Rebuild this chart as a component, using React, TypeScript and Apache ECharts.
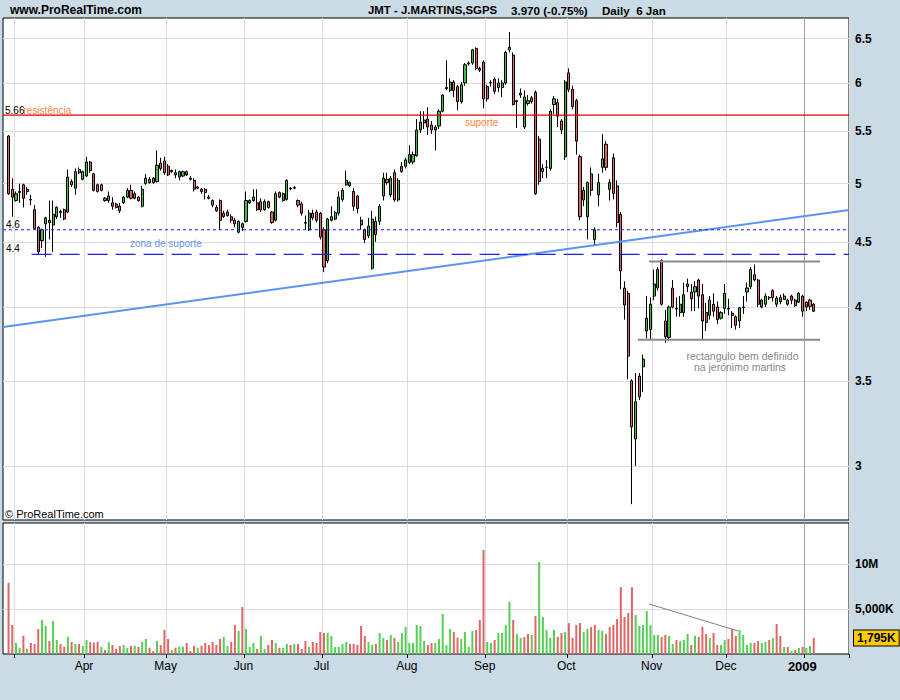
import React, { useEffect, useRef } from 'react';
import * as echarts from 'echarts';

const FONT = '"Liberation Sans", Arial, Helvetica, sans-serif';
const BG = '#cbdbe5';
const GRID_COLOR = '#dcdcdc';
const CANDLE_UP = '#3fbe3f';
const CANDLE_DOWN = '#e06464';
const VOL_UP = '#55d055';
const VOL_DOWN = '#e06666';

// ---- calendar (Euronext Lisbon trading days) ----
const START_DATE = '2008-02-27';
const HOLIDAYS = ['2008-03-21', '2008-03-24', '2008-05-01', '2008-12-25', '2008-12-26', '2009-01-01'];
const CATEGORY_COUNT = 228;
const FIRST_BAR = 1; // category index of 28 Feb 2008
const MONTH_NAMES = ['Jan', 'Feb', 'Mar', 'Apr', 'May', 'Jun', 'Jul', 'Aug', 'Sep', 'Oct', 'Nov', 'Dec'];

// ---- prices (28 Feb 2008 .. 6 Jan 2009) ----
const openP = [
  5.45, 4.95, 4.85, 4.92, 4.99, 4.93, 4.86, 4.77, 4.62, 4.51,
  4.65, 4.68, 4.64, 4.71, 4.745, 4.77, 4.75, 5.02, 4.96, 5.13,
  5.04, 5.07, 5.20, 5.09, 4.99, 4.99, 4.87, 4.85, 4.83, 4.82,
  4.80, 4.83, 4.88, 4.94, 4.91, 4.88, 4.80, 5.00, 5.01, 5.05,
  5.02, 5.19, 5.21, 5.16, 5.12, 5.10, 5.06, 5.07, 5.11, 5.05,
  5.03, 4.97, 4.95, 4.95, 4.87, 4.85, 4.79, 4.85, 4.74, 4.75,
  4.71, 4.68, 4.58, 4.62, 4.67, 4.83, 4.85, 4.83, 4.84, 4.77,
  4.84, 4.75, 4.68, 4.92, 4.85, 4.86, 4.96, 4.96, 4.85, 4.82,
  4.66, 4.60, 4.74, 4.75, 4.74, 4.60, 4.35, 4.68, 4.69, 4.74,
  4.86, 4.99, 4.98, 4.93, 4.89, 4.68, 4.60, 4.55, 4.29, 4.67,
  4.67, 4.89, 5.04, 4.90, 5.10, 4.855, 5.16, 5.16, 5.195, 5.20,
  5.26, 5.51, 5.58, 5.62, 5.56, 5.54, 5.55, 5.70, 5.94, 5.92,
  6.01, 5.96, 5.80, 6.00, 6.21, 6.22, 6.385, 6.16, 6.23, 5.96,
  6.00, 6.04, 5.95, 5.95, 6.00, 6.37, 6.31, 5.81, 5.89, 5.54,
  5.78, 5.80, 5.90, 5.42, 5.11, 5.15, 5.14, 5.77, 5.79, 5.60,
  5.25, 6.11, 5.93, 5.81, 5.25, 4.94, 4.71, 5.09, 4.52, 4.90,
  5.15, 5.37, 4.95, 5.24, 4.98, 4.73, 4.14, 4.10, 3.50, 3.15,
  3.53, 3.59, 3.83, 3.84, 4.08, 4.14, 4.35, 3.90, 3.785, 4.14,
  3.99, 3.96, 3.96, 4.17, 4.11, 4.11, 4.20, 4.09, 3.96, 3.94,
  4.02, 4.00, 3.92, 3.99, 3.99, 3.955, 3.93, 3.90, 3.995, 4.11,
  4.15, 4.24, 4.20, 4.00, 4.02, 4.07, 4.12, 4.02, 4.07, 4.055,
  4.02, 4.08, 4.05, 4.035, 4.08, 4.035, 4.05, 4.02,
];
const closeP = [
  4.91, 4.88, 4.91, 4.93, 4.87, 4.95, 4.855, 4.61, 4.42, 4.60,
  4.70, 4.66, 4.73, 4.79, 4.755, 4.69, 5.06, 4.99, 5.11, 5.10,
  5.11, 5.20, 5.12, 4.94, 4.93, 4.94, 4.85, 4.89, 4.80, 4.79,
  4.76, 4.88, 4.94, 4.87, 4.87, 4.85, 4.95, 5.05, 5.04, 5.01,
  5.17, 5.14, 5.10, 5.08, 5.11, 5.08, 5.11, 5.11, 5.08, 5.04,
  4.95, 4.96, 4.93, 4.92, 4.88, 4.81, 4.76, 4.68, 4.71, 4.72,
  4.68, 4.65, 4.67, 4.65, 4.85, 4.85, 4.88, 4.77, 4.77, 4.84,
  4.79, 4.66, 4.91, 4.88, 4.91, 5.03, 4.955, 4.965, 4.81, 4.74,
  4.655, 4.74, 4.70, 4.68, 4.54, 4.30, 4.69, 4.71, 4.745, 4.88,
  4.94, 5.03, 5.01, 4.80, 4.78, 4.64, 4.52, 4.63, 4.69, 4.56,
  4.80, 5.05, 5.01, 5.05, 4.855, 5.03, 5.11, 5.22, 5.27, 5.27,
  5.51, 5.59, 5.61, 5.54, 5.51, 5.51, 5.70, 5.87, 5.95, 6.01,
  5.92, 5.80, 5.98, 6.20, 6.22, 6.37, 6.16, 6.14, 5.83, 5.83,
  6.005, 5.91, 6.00, 6.00, 6.34, 6.40, 5.77, 5.80, 5.87, 5.85,
  5.81, 5.84, 4.91, 5.02, 5.14, 5.15, 5.70, 5.83, 5.65, 5.51,
  6.01, 5.93, 5.75, 5.40, 4.71, 4.855, 5.01, 4.94, 4.60, 5.01,
  5.23, 5.15, 5.01, 4.91, 4.66, 4.27, 4.015, 3.66, 3.22, 3.37,
  3.40, 3.64, 3.92, 4.02, 4.17, 4.28, 4.02, 3.79, 4.00, 4.00,
  3.985, 4.02, 4.09, 4.15, 4.06, 4.15, 4.08, 3.90, 3.89, 4.05,
  3.97, 3.91, 3.96, 4.10, 3.985, 3.94, 3.87, 3.995, 4.00, 4.14,
  4.28, 4.20, 4.02, 4.05, 4.08, 4.065, 4.07, 4.065, 4.04, 4.08,
  4.05, 4.05, 4.01, 4.10, 3.97, 4.00, 4.005, 3.97,
];
const lowP = [
  4.90, 4.71, 4.84, 4.83, 4.79, 4.90, 4.81, 4.60, 4.40, 4.45,
  4.38, 4.52, 4.42, 4.69, 4.70, 4.68, 4.74, 4.97, 4.90, 5.09,
  5.03, 5.06, 5.10, 4.93, 4.92, 4.93, 4.84, 4.83, 4.77, 4.78,
  4.74, 4.82, 4.87, 4.86, 4.86, 4.84, 4.79, 4.99, 5.00, 5.00,
  5.01, 5.12, 5.08, 5.07, 5.10, 5.05, 5.03, 5.06, 5.07, 5.03,
  4.93, 4.95, 4.91, 4.86, 4.86, 4.79, 4.75, 4.60, 4.70, 4.71,
  4.66, 4.62, 4.57, 4.59, 4.66, 4.82, 4.84, 4.76, 4.75, 4.76,
  4.78, 4.65, 4.67, 4.87, 4.84, 4.85, 4.94, 4.95, 4.79, 4.72,
  4.60, 4.59, 4.68, 4.66, 4.52, 4.26, 4.33, 4.67, 4.68, 4.72,
  4.84, 4.98, 4.97, 4.76, 4.74, 4.60, 4.49, 4.53, 4.28, 4.50,
  4.64, 4.85, 4.99, 4.88, 4.84, 4.84, 5.10, 5.14, 5.18, 5.18,
  5.25, 5.48, 5.52, 5.46, 5.47, 5.31, 5.52, 5.69, 5.92, 5.90,
  5.85, 5.71, 5.78, 5.97, 6.19, 6.20, 6.14, 6.12, 5.73, 5.80,
  5.96, 5.88, 5.90, 5.85, 5.98, 6.34, 5.76, 5.53, 5.84, 5.52,
  5.76, 5.78, 4.90, 4.99, 5.05, 5.05, 5.12, 5.67, 5.54, 5.47,
  5.22, 5.90, 5.72, 5.27, 4.68, 4.80, 4.52, 4.89, 4.47, 4.80,
  5.10, 5.12, 4.85, 4.86, 4.62, 4.13, 3.91, 3.51, 2.80, 3.00,
  3.38, 3.43, 3.78, 3.77, 4.05, 4.12, 4.01, 3.75, 3.76, 3.99,
  3.93, 3.93, 3.93, 4.11, 3.97, 3.97, 3.99, 3.77, 3.83, 3.91,
  3.93, 3.88, 3.91, 3.95, 3.94, 3.85, 3.84, 3.85, 3.95, 4.04,
  4.13, 4.19, 4.00, 3.99, 4.00, 4.05, 4.04, 4.00, 4.02, 4.05,
  4.01, 4.02, 4.00, 4.03, 3.93, 3.97, 3.98, 3.965,
];
const highP = [
  5.46, 5.05, 4.93, 5.00, 5.00, 4.97, 4.90, 4.81, 4.63, 4.61,
  4.71, 4.85, 4.85, 4.80, 4.77, 4.78, 5.13, 5.04, 5.14, 5.15,
  5.12, 5.25, 5.21, 5.10, 5.00, 5.00, 4.88, 4.93, 4.88, 4.83,
  4.83, 4.89, 4.96, 4.99, 4.93, 4.89, 4.98, 5.09, 5.06, 5.06,
  5.31, 5.24, 5.25, 5.18, 5.13, 5.13, 5.12, 5.12, 5.12, 5.07,
  5.05, 4.98, 4.96, 4.96, 4.90, 4.86, 4.81, 4.86, 4.76, 4.77,
  4.73, 4.70, 4.68, 4.66, 4.93, 4.86, 4.95, 4.95, 4.87, 4.86,
  4.85, 4.76, 4.93, 4.93, 4.92, 5.04, 4.97, 4.98, 4.86, 4.84,
  4.72, 4.77, 4.77, 4.77, 4.75, 4.62, 4.70, 4.80, 4.76, 4.93,
  4.96, 5.12, 5.02, 4.96, 4.90, 4.71, 4.61, 4.70, 4.76, 4.71,
  4.82, 5.10, 5.10, 5.07, 5.13, 5.05, 5.20, 5.24, 5.36, 5.30,
  5.62, 5.70, 5.70, 5.74, 5.60, 5.56, 5.72, 5.88, 6.25, 6.05,
  6.03, 5.98, 6.01, 6.22, 6.24, 6.38, 6.40, 6.18, 6.25, 5.98,
  6.03, 6.06, 6.05, 6.03, 6.36, 6.58, 6.34, 5.82, 5.94, 5.92,
  5.87, 5.86, 5.92, 5.45, 5.18, 5.22, 5.72, 5.86, 5.83, 5.62,
  6.03, 6.16, 5.97, 5.83, 5.27, 4.97, 5.02, 5.15, 4.62, 5.09,
  5.47, 5.40, 5.04, 5.28, 5.03, 4.75, 4.19, 4.12, 3.51, 3.55,
  3.55, 3.67, 4.08, 4.07, 4.28, 4.30, 4.36, 3.98, 4.01, 4.20,
  4.07, 4.08, 4.18, 4.21, 4.17, 4.19, 4.21, 4.17, 4.03, 4.08,
  4.10, 4.04, 3.97, 4.17, 4.06, 3.97, 3.94, 4.00, 4.08, 4.18,
  4.30, 4.32, 4.21, 4.06, 4.10, 4.08, 4.13, 4.08, 4.09, 4.10,
  4.06, 4.09, 4.06, 4.11, 4.09, 4.04, 4.06, 4.03,
];
// volume in millions of shares
const volumeM = [
  7.93, 3.22, 1.26, 0.70, 2.04, 0.59, 1.22, 1.11, 2.78, 3.78,
  3.11, 1.44, 3.67, 1.56, 1.11, 0.81, 1.93, 1.33, 1.11, 1.11,
  0.89, 1.56, 1.33, 1.26, 1.33, 0.78, 0.44, 1.33, 1.00, 0.56,
  0.89, 1.00, 0.70, 0.89, 0.93, 0.81, 1.33, 1.67, 0.70, 0.33,
  1.44, 1.00, 2.67, 1.67, 0.44, 0.70, 0.81, 0.81, 1.22, 0.33,
  0.89, 0.70, 0.93, 1.22, 1.00, 1.33, 1.00, 1.67, 1.89, 0.89,
  1.33, 3.22, 2.56, 5.22, 2.78, 0.78, 1.22, 0.56, 2.00, 0.56,
  1.00, 1.56, 1.22, 0.70, 0.70, 1.11, 1.00, 1.11, 1.11, 0.56,
  1.44, 0.78, 1.33, 1.22, 2.44, 2.33, 2.33, 2.00, 0.78, 0.78,
  1.11, 1.33, 1.11, 1.11, 1.00, 3.11, 2.00, 1.33, 1.00, 1.11,
  2.33, 1.78, 1.56, 2.11, 1.78, 1.33, 2.33, 3.00, 1.22, 1.22,
  3.22, 3.11, 1.44, 1.00, 1.22, 1.22, 1.67, 4.44, 1.00, 2.78,
  2.44, 1.81, 1.67, 2.44, 0.81, 2.56, 2.67, 3.78, 11.56, 1.33,
  1.22, 1.56, 2.33, 2.33, 3.22, 5.81, 3.78, 2.22, 1.78, 1.89,
  2.22, 2.11, 4.22, 10.22, 4.11, 2.67, 1.78, 2.67, 1.89, 2.33,
  2.44, 3.44, 1.78, 3.22, 3.44, 2.44, 2.78, 3.00, 3.22, 2.67,
  2.56, 2.22, 3.00, 3.22, 3.89, 7.44, 4.11, 4.56, 7.44, 4.33,
  3.11, 3.22, 4.78, 3.22, 2.11, 2.11, 1.89, 2.11, 2.00, 1.11,
  1.56, 1.44, 1.56, 2.22, 1.00, 2.00, 1.89, 3.00, 2.22, 1.78,
  2.33, 1.00, 1.00, 1.56, 1.67, 2.78, 2.00, 2.67, 2.11, 1.00,
  1.22, 1.22, 1.44, 1.22, 1.33, 1.56, 1.78, 3.33, 2.00, 0.78,
  0.78, 0.33, 0.44, 0.67, 0.78, 0.67, 0.89, 1.795,
];

// ---- axes ----
const priceTicks = [3, 3.5, 4, 4.5, 5, 5.5, 6, 6.5];
const priceRange = [2.7207, 6.748]; // log scale
const volumeTicks = [5, 10];
const volumeTickLabels = ['5,000K', '10M'];
const volumeMax = 14.56;

// ---- drawn annotations (x in category-index units) ----
const resistance = 5.66;
const supportHigh = 4.6;
const supportLow = 4.4;
const supportLowFrom = 7.2;
const trendLine = [[-0.5, 3.858], [227.5, 4.767]];
const rectTopLine = [[173.6, 4.343], [219.7, 4.343]];
const rectBottomLine = [[170.6, 3.77], [219.7, 3.77]];
const volumeTrend = [[173.6, 5.56], [197.6, 2.56]];

const TITLE_LEFT = 'www.ProRealTime.com';
const TITLE_NAME = 'JMT - J.MARTINS,SGPS';
const TITLE_PRICE = '3.970 (-0.75%)';
const TITLE_PERIOD = 'Daily  6 Jan';

function buildDates(): string[] {
  const out: string[] = [];
  const d = new Date(START_DATE + 'T00:00:00Z');
  while (out.length < CATEGORY_COUNT) {
    const wd = d.getUTCDay();
    const s = d.toISOString().slice(0, 10);
    if (wd !== 0 && wd !== 6 && HOLIDAYS.indexOf(s) < 0) out.push(s);
    d.setUTCDate(d.getUTCDate() + 1);
  }
  return out;
}

const fmtPrice = (p: number) => String(Math.round(p * 10) / 10);

export default function App() {
  const ref = useRef<HTMLDivElement>(null);
  useEffect(() => {
    if (!ref.current) return;
    document.body.style.margin = '0';
    document.body.style.padding = '0';
    const chart = echarts.init(ref.current, null, { renderer: 'svg', width: 900, height: 700 });
    const dates = buildDates();
    const ln = Math.log;
    const monthStart = (i: number) => i > 0 && dates[i].slice(5, 7) !== dates[i - 1].slice(5, 7);
    const janIdx = dates.findIndex((d, i) => monthStart(i) && d.slice(5, 7) === '01');
    const xMax = CATEGORY_COUNT - 0.5;
    const yMinLn = ln(priceRange[0]);
    const yMaxLn = ln(priceRange[1]);

    const candles = openP.map((o, k) => [k + FIRST_BAR, ln(o), ln(closeP[k]), ln(lowP[k]), ln(highP[k])]);
    const vols = volumeM.map((v, k) => [k + FIRST_BAR, v]);
    const volColors = volumeM.map((_, k) => (k > 0 && closeP[k] >= closeP[k - 1] ? VOL_UP : VOL_DOWN));
    const lastVol = volumeM[volumeM.length - 1];
    const lastVolLabel = Math.round(lastVol * 1000).toLocaleString('en-US') + 'K';

    const catAxis = (gridIndex: number, labels: boolean) => ({
      type: 'category',
      gridIndex,
      data: dates,
      boundaryGap: true,
      axisLine: { show: false },
      axisTick: {
        show: labels,
        interval: (i: number) => monthStart(i),
        length: 4,
        lineStyle: { color: '#000' },
      },
      axisLabel: labels
        ? {
            show: true,
            interval: (i: number) => monthStart(i),
            formatter: (v: string) => {
              const m = +v.slice(5, 7);
              if (m === 1) return '{y|' + v.slice(0, 4) + '}';
              if (m === 3) return '';
              return MONTH_NAMES[m - 1];
            },
            color: '#000',
            fontFamily: FONT,
            fontSize: 12,
            margin: 6,
            padding: [0, 5, 0, 0],
            rich: { y: { fontWeight: 'bold', fontSize: 13, fontFamily: FONT, color: '#000', padding: [0, 3, 0, 0] } },
          }
        : { show: false },
      splitLine: { show: true, interval: (i: number) => monthStart(i), lineStyle: { color: GRID_COLOR, width: 1 } },
    });

    const lineSeries = (xAxisIndex: number, yAxisIndex: number, data: number[][], lineStyle: any, z = 4) => ({
      type: 'line',
      xAxisIndex,
      yAxisIndex,
      data,
      symbol: 'none',
      silent: true,
      lineStyle,
      z,
    });
    const priceLine = (pts: number[][]) => pts.map(([x, p]) => [x, ln(p)]);

    const txt = (text: string, x: number, y: number, size: number, color: string, weight = 'normal', align = 'left') => ({
      type: 'text',
      x,
      y,
      silent: true,
      z: 100,
      style: {
        text,
        fill: color,
        font: `${weight} ${size}px ${FONT}`,
        align,
        textAlign: align,
        verticalAlign: 'middle',
        textVerticalAlign: 'middle',
      },
    });

    const option: any = {
      animation: false,
      backgroundColor: BG,
      tooltip: { show: false },
      grid: [
        { left: 3, top: 18, width: 846, height: 502, show: true, backgroundColor: '#fff', borderColor: '#000', borderWidth: 1 },
        { left: 3, top: 523, width: 846, height: 131, show: true, backgroundColor: '#fff', borderColor: '#000', borderWidth: 1 },
      ],
      xAxis: [
        catAxis(0, false),
        catAxis(1, true),
        { type: 'value', gridIndex: 0, min: -0.5, max: xMax, show: false },
        { type: 'value', gridIndex: 1, min: -0.5, max: xMax, show: false },
      ],
      yAxis: [
        {
          type: 'value',
          gridIndex: 0,
          position: 'right',
          min: yMinLn,
          max: yMaxLn,
          axisLine: { show: false },
          axisTick: { show: false, customValues: priceTicks.map(ln) },
          axisLabel: {
            customValues: priceTicks.map(ln),
            formatter: (v: number) => fmtPrice(Math.exp(v)),
            color: '#000',
            fontWeight: 'bold',
            fontSize: 12,
            fontFamily: FONT,
            margin: 6,
          },
          splitLine: { show: true, lineStyle: { color: GRID_COLOR } },
        },
        {
          type: 'value',
          gridIndex: 1,
          position: 'right',
          min: 0,
          max: volumeMax,
          axisLine: { show: false },
          axisTick: { show: false, customValues: volumeTicks },
          axisLabel: {
            customValues: volumeTicks,
            formatter: (v: number) => {
              const i = volumeTicks.indexOf(v);
              return i >= 0 ? volumeTickLabels[i] : '';
            },
            color: '#000',
            fontWeight: 'bold',
            fontSize: 12,
            fontFamily: FONT,
            margin: 6,
          },
          splitLine: { show: true, lineStyle: { color: GRID_COLOR } },
        },
      ],
      series: [
        lineSeries(2, 0, [[janIdx - 0.5, yMinLn], [janIdx - 0.5, yMaxLn]], { color: '#a0a0a0', width: 1 }, 1),
        lineSeries(3, 1, [[janIdx - 0.5, 0], [janIdx - 0.5, volumeMax]], { color: '#a0a0a0', width: 1 }, 1),
        {
          type: 'candlestick',
          xAxisIndex: 0,
          yAxisIndex: 0,
          data: candles,
          encode: { x: 0, y: [1, 2, 3, 4] },
          barWidth: 2.6,
          silent: true,
          z: 3,
          itemStyle: {
            color: CANDLE_UP,
            color0: CANDLE_DOWN,
            borderColor: '#000',
            borderColor0: '#000',
            borderWidth: 1,
          },
        },
        {
          type: 'bar',
          xAxisIndex: 1,
          yAxisIndex: 1,
          data: vols,
          barWidth: 2,
          silent: true,
          z: 3,
          itemStyle: { color: (p: any) => volColors[p.dataIndex] },
          markLine: {
            silent: true,
            symbol: ['none', 'none'],
            lineStyle: { color: 'rgba(0,0,0,0)', width: 0 },
            data: [{ yAxis: lastVol }],
            label: {
              show: true,
              position: 'end',
              distance: 5,
              formatter: () => lastVolLabel,
              backgroundColor: '#ffcc00',
              borderColor: '#000',
              borderWidth: 1,
              padding: [2, 3, 1, 3],
              color: '#000',
              fontWeight: 'bold',
              fontSize: 12,
              fontFamily: FONT,
            },
          },
        },
        lineSeries(2, 0, priceLine(trendLine), { color: '#5a93f5', width: 2 }, 4),
        lineSeries(2, 0, priceLine([[-0.5, resistance], [xMax, resistance]]), { color: '#e00000', width: 1.2 }, 5),
        lineSeries(2, 0, priceLine([[-0.5, supportHigh], [xMax, supportHigh]]), { color: '#2020e0', width: 1.2, type: [3, 3] }, 5),
        lineSeries(2, 0, priceLine([[supportLowFrom, supportLow], [xMax, supportLow]]), { color: '#2020e0', width: 1.2, type: [20, 8] }, 5),
        lineSeries(2, 0, priceLine(rectTopLine), { color: '#8a8a8a', width: 2 }, 5),
        lineSeries(2, 0, priceLine(rectBottomLine), { color: '#8a8a8a', width: 2 }, 5),
        lineSeries(3, 1, volumeTrend, { color: '#808080', width: 1 }, 5),
      ],
      graphic: [
        txt(TITLE_LEFT, 10, 10, 12, '#000', 'bold'),
        txt(TITLE_NAME, 368, 10, 11.4, '#000', 'bold'),
        txt(TITLE_PRICE, 511, 10, 11.6, '#000', 'bold'),
        txt(TITLE_PERIOD, 602, 10, 11.6, '#000', 'bold'),
        txt('© ProRealTime.com', 5, 514, 11, '#000'),
        txt(String(resistance), 5, 110, 10, '#000'),
        txt('resistência', 23.5, 110.5, 10, '#ff8040'),
        txt('suporte', 465, 122, 10, '#ff8040'),
        txt(String(supportHigh), 6, 224.5, 10, '#000'),
        txt(String(supportLow), 6, 248.5, 10, '#000'),
        txt('zona de suporte', 130, 243, 10, '#6495ed'),
        txt('rectangulo bem definido', 742.5, 356, 10.5, '#888888', 'normal', 'center'),
        txt('na jerónimo martins', 740, 367, 10.5, '#888888', 'normal', 'center'),
      ],
    };
    chart.setOption(option);
    return () => chart.dispose();
  }, []);
  return <div ref={ref} style={{ width: 900, height: 700 }} />;
}
